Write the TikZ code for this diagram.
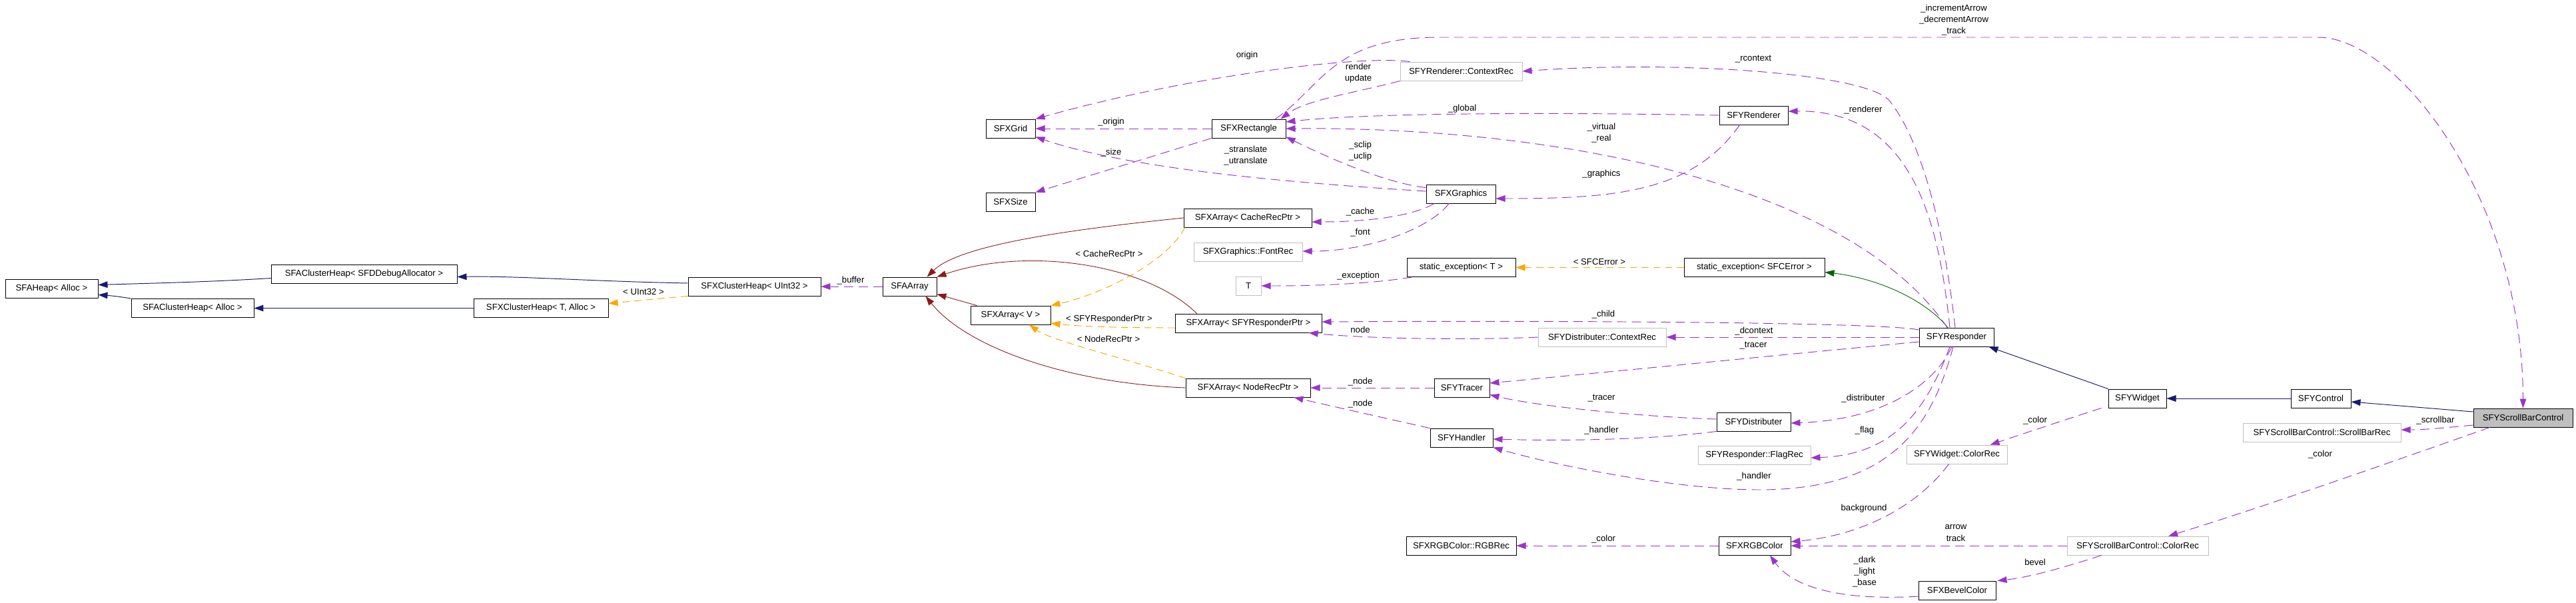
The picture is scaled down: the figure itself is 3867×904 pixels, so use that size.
\documentclass[tikz,border=0pt]{standalone}
\usepackage{fontspec}
\setmainfont{Liberation Sans}
\usepackage{xcolor}
\definecolor{dxPurple}{HTML}{9A32CD}
\definecolor{dxBlue}{HTML}{191970}
\definecolor{dxRed}{HTML}{8B1A1A}
\definecolor{dxGreen}{HTML}{006400}
\definecolor{dxOrange}{HTML}{FFA500}
\definecolor{dxGray}{HTML}{BFBFBF}
\usetikzlibrary{arrows.meta,calc}

\begin{document}
\begin{tikzpicture}[
			x=0.02cm, y=-0.02cm,
			cls/.style={rectangle, draw=black, line width=0.5pt, minimum height=0.56cm,
				inner sep=0pt, font=\fontsize{7.5}{9}\selectfont},
			ext/.style={cls, draw=dxGray},
			cur/.style={cls, fill=dxGray},
			lbl/.style={align=center, inner sep=0pt, font=\fontsize{7.5}{9.7}\selectfont},
			tip/.style={-{Triangle[length=8pt, width=5.5pt]}, line width=0.55pt},
			inh/.style={tip, dxBlue},
			arrinh/.style={tip, dxRed, line width=0.5pt},
			exinh/.style={tip, dxGreen, line width=0.5pt},
			tmpl/.style={tip, dxOrange, dash pattern=on 6pt off 4pt},
			mem/.style={tip, dxPurple, dash pattern=on 8pt off 4.5pt}
			]
			\useasboundingbox (0,0) rectangle (3867,904);

			% classes
			\node[cls, minimum width=2.78cm] (heap) at (77.5,433.5) {SFAHeap< Alloc >};
			\node[cls, minimum width=5.58cm] (dbgheap) at (546.5,411.5) {SFAClusterHeap< SFDDebugAllocator >};
			\node[cls, minimum width=3.68cm] (aheap) at (289,462.5) {SFAClusterHeap< Alloc >};
			\node[cls, minimum width=3.98cm] (u32heap) at (1132.5,430) {SFXClusterHeap< UInt32 >};
			\node[cls, minimum width=4.04cm] (tHeap) at (812,462.5) {SFXClusterHeap< T, Alloc >};
			\node[cls, minimum width=1.62cm] (aarray) at (1365.5,430) {SFAArray};
			\node[cls, minimum width=2.40cm] (vArray) at (1517,473) {SFXArray< V >};
			\node[cls, minimum width=3.84cm] (cacheArr) at (1873,327) {SFXArray< CacheRecPtr >};
			\node[ext, minimum width=3.26cm] (fontRec) at (1873.5,378) {SFXGraphics::FontRec};
			\node[ext, minimum width=0.76cm] (tNode) at (1874,429) {T};
			\node[cls, minimum width=4.40cm] (respArr) at (1874,485) {SFXArray< SFYResponderPtr >};
			\node[cls, minimum width=3.74cm] (nodeArr) at (1873.5,582) {SFXArray< NodeRecPtr >};
			\node[cls, minimum width=1.48cm] (grid) at (1517,193) {SFXGrid};
			\node[cls, minimum width=1.48cm] (sizeN) at (1517,303) {SFXSize};
			\node[cls, minimum width=2.22cm] (rect) at (1874.5,193) {SFXRectangle};
			\node[ext, minimum width=3.66cm] (rctx) at (2193.5,107) {SFYRenderer::ContextRec};
			\node[cls, minimum width=2.06cm] (renderer) at (2632.5,173) {SFYRenderer};
			\node[cls, minimum width=2.08cm] (graphics) at (2193,291) {SFXGraphics};
			\node[cls, minimum width=3.26cm] (excT) at (2193.5,401.5) {static\_exception< T >};
			\node[cls, minimum width=4.22cm] (excE) at (2633.5,401.5) {static\_exception< SFCError >};
			\node[cls, minimum width=2.24cm] (responder) at (2937,506) {SFYResponder};
			\node[ext, minimum width=3.84cm] (dctx) at (2405,506) {SFYDistributer::ContextRec};
			\node[cls, minimum width=1.66cm] (tracer) at (2194.5,582) {SFYTracer};
			\node[cls, minimum width=2.22cm] (distributer) at (2632.5,633) {SFYDistributer};
			\node[cls, minimum width=1.88cm] (handler) at (2194,657) {SFYHandler};
			\node[ext, minimum width=3.38cm] (flag) at (2633.5,683) {SFYResponder::FlagRec};
			\node[cls, minimum width=3.30cm] (rgbRec) at (2193.5,819) {SFXRGBColor::RGBRec};
			\node[cls, minimum width=2.16cm] (rgb) at (2634,819) {SFXRGBColor};
			\node[cls, minimum width=1.74cm] (widget) at (3208.5,598) {SFYWidget};
			\node[cls, minimum width=1.80cm] (control) at (3484,598) {SFYControl};
			\node[cur, minimum width=2.98cm] (sbc) at (3787.5,627) {SFYScrollBarControl};
			\node[ext, minimum width=4.74cm] (sbRec) at (3485.5,649) {SFYScrollBarControl::ScrollBarRec};
			\node[ext, minimum width=3.02cm] (wColor) at (2937.5,682) {SFYWidget::ColorRec};
			\node[ext, minimum width=4.24cm] (sbColor) at (3209,819) {SFYScrollBarControl::ColorRec};
			\node[cls, minimum width=2.32cm] (bevel) at (2938,886) {SFXBevelColor};

			% inheritance
			\draw[inh] ($(dbgheap.west)+(0,6)$) .. controls (320,423) and (230,425) .. ($(heap.east)+(0,-6)$);
			\draw[inh] (aheap.north west) .. controls (185,446) and (170,444) .. ($(heap.east)+(0,9)$);
			\draw[inh] ($(u32heap.west)+(0,-5)$) .. controls (880,422) and (780,414) .. ($(dbgheap.east)+(0,4)$);
			\draw[inh] (tHeap.west) -- (aheap.east);
			\draw[inh] (widget.north west) -- ($(responder.south east)+(-8,0)$);
			\draw[inh] (control.west) -- (widget.east);
			\draw[inh] ($(sbc.west)+(0,-9)$) -- ($(control.east)+(0,5)$);
			\draw[arrinh] (cacheArr.west) .. controls (1600,345) and (1440,368) .. ($(aarray.north)+(26,0)$);
			\draw[arrinh] ($(respArr.north west)+(33,0)$) .. controls (1720,395) and (1540,370) .. (aarray.north east);
			\draw[arrinh] ($(vArray.north west)+(10,0)$) -- ($(aarray.south east)+(0,-3)$);
			\draw[arrinh] (nodeArr.west) .. controls (1600,575) and (1450,520) .. ($(aarray.south)+(24,0)$);
			\draw[exinh] ($(responder.north)+(-13,0)$) .. controls (2890,450) and (2820,418) .. ($(excE.east)+(0,7)$);

			% templates
			\draw[tmpl] (u32heap.south west) .. controls (990,448) and (950,452) .. ($(tHeap.east)+(0,-7)$);
			\draw[tmpl] ($(cacheArr.south west)+(2,0)$) .. controls (1755,390) and (1660,440) .. (vArray.north east);
			\draw[tmpl] ($(respArr.west)+(0,7)$) .. controls (1680,492) and (1620,490) .. ($(vArray.east)+(0,12)$);
			\draw[tmpl] (nodeArr.north west) .. controls (1680,535) and (1580,512) .. ($(vArray.south)+(28,0)$);
			\draw[tmpl] (excE.west) -- (excT.east);
			\node[lbl] (lUInt) at (966,438) {< UInt32 >};
			\node[lbl] (lCache) at (1665,381) {< CacheRecPtr >};
			\node[lbl] (lResp) at (1665,479) {< SFYResponderPtr >};
			\node[lbl] (lNodeRec) at (1664,509) {< NodeRecPtr >};
			\node[lbl] (lSFCError) at (2401,393) {< SFCError >};

			% members
			\draw[mem] (aarray.west) -- (u32heap.east);
			\draw[mem] (rect.west) -- (grid.east);
			\draw[mem] (rect.south west) -- (sizeN.north east);
			\draw[mem] ($(graphics.west)+(0,-4)$) .. controls (1950,275) and (1700,255) .. ($(grid.south east)+(0,-2)$);
			\draw[mem] (rctx.south west) .. controls (2040,138) and (1960,150) .. ($(rect.north east)+(-8,0)$);
			\draw[mem] ($(rect.north)+(40,0)$) .. controls (1985,130) and (2000,56) .. (2160,56) -- (3480,56)
				.. controls (3600,56) and (3787,300) .. (sbc.north);
			\draw[mem] ($(rctx.north west)+(15,0)$) .. controls (2040,82) and (1780,115) .. (grid.north east);
			\draw[mem] (renderer.west) .. controls (2300,168) and (2050,170) .. ($(rect.east)+(0,-10)$);
			\draw[mem] ($(responder.north)+(-14,0)$) .. controls (2780,280) and (2350,190) .. (rect.east);
			\draw[mem] ($(graphics.north west)+(0,5)$) .. controls (2080,275) and (1990,235) .. ($(rect.south east)+(0,-2)$);
			\draw[mem] ($(renderer.south)+(-21,0)$) .. controls (2540,290) and (2420,298) .. ($(graphics.east)+(0,7)$);
			\draw[mem] ($(graphics.south)+(-40,0)$) .. controls (2120,325) and (2050,333) .. ($(cacheArr.east)+(0,6)$);
			\draw[mem] ($(graphics.south)+(-18,0)$) .. controls (2150,340) and (2060,377) .. ($(fontRec.east)+(0,-1)$);
			\draw[mem] ($(excT.south west)+(8,0)$) .. controls (2070,424) and (2000,429) .. (tNode.east);
			\draw[mem] ($(responder.north)+(-2,0)$) .. controls (2920,360) and (2890,220) .. (2837,152)
				.. controls (2805,110) and (2520,90) .. (rctx.east);
			\draw[mem] ($(responder.north)+(-10,0)$) .. controls (2910,330) and (2870,165) .. ($(renderer.east)+(0,-6)$);
			\draw[mem] ($(responder.west)+(0,-11)$) .. controls (2820,483) and (2300,481) .. ($(respArr.east)+(0,-2)$);
			\draw[mem] (dctx.west) .. controls (2200,511) and (2050,508) .. ($(respArr.south east)+(-20,0)$);
			\draw[mem] (responder.west) -- (dctx.east);
			\draw[mem] ($(responder.west)+(0,7)$) .. controls (2700,530) and (2450,555) .. ($(tracer.east)+(0,-7)$);
			\draw[mem] (tracer.west) -- (nodeArr.east);
			\draw[mem] (handler.north west) .. controls (2090,630) and (2010,612) .. ($(nodeArr.south east)+(-25,0)$);
			\draw[mem] ($(distributer.west)+(0,-4)$) .. controls (2450,625) and (2300,608) .. ($(tracer.south east)+(0,-4)$);
			\draw[mem] (distributer.south west) .. controls (2480,660) and (2350,662) .. ($(handler.east)+(0,2)$);
			\draw[mem] ($(responder.south)+(-7,0)$) .. controls (2905,575) and (2830,630) .. ($(distributer.east)+(0,2)$);
			\draw[mem] ($(responder.south)+(-10,0)$) .. controls (2890,620) and (2840,683) .. ($(flag.east)+(0,4)$);
			\draw[mem] ($(responder.south)+(-5,0)$) .. controls (2900,640) and (2840,735) .. (2640,735)
				.. controls (2520,735) and (2340,700) .. (handler.south east);
			\draw[mem] ($(wColor.south)+(-12,0)$) .. controls (2870,770) and (2780,805) .. ($(rgb.east)+(0,-6)$);
			\draw[mem] (rgb.west) -- (rgbRec.east);
			\draw[mem] (sbColor.west) -- (rgb.east);
			\draw[mem] ($(bevel.west)+(0,9)$) .. controls (2760,902) and (2690,880) .. ($(rgb.south)+(23,0)$);
			\draw[mem] ($(sbColor.south west)+(52,0)$) .. controls (3110,848) and (3050,866) .. ($(bevel.north east)+(2,0)$);
			\draw[mem] ($(widget.south west)+(-10,0)$) .. controls (3100,630) and (3040,650) .. ($(wColor.north)+(50,0)$);
			\draw[mem] ($(sbc.west)+(0,11)$) .. controls (3670,642) and (3640,645) .. ($(sbRec.east)+(0,-4)$);
			\draw[mem] ($(sbc.south)+(-50,0)$) .. controls (3600,690) and (3400,760) .. ($(sbColor.north)+(46,0)$);

			\node[lbl] (lBuffer) at (1277,421) {\_buffer};
			\node[lbl] (lOrigin) at (1872,83) {origin};
			\node[lbl] (lOriginM) at (1668,183) {\_origin};
			\node[lbl] (lSize) at (1668,229) {\_size};
			\node[lbl] (lTransl) at (1870,234) {\_stranslate\\\_utranslate};
			\node[lbl] (lRender) at (2039,110) {render\\update};
			\node[lbl] (lGlobal) at (2195,163) {\_global};
			\node[lbl] (lVirtual) at (2404,200) {\_virtual\\\_real};
			\node[lbl] (lClip) at (2042,227) {\_sclip\\\_uclip};
			\node[lbl] (lGraphics) at (2404,261) {\_graphics};
			\node[lbl] (lCacheM) at (2042,318) {\_cache};
			\node[lbl] (lFont) at (2042,349) {\_font};
			\node[lbl] (lExc) at (2039,414) {\_exception};
			\node[lbl] (lRcontext) at (2632,89) {\_rcontext};
			\node[lbl] (lRenderer) at (2797,165) {\_renderer};
			\node[lbl] (lTrack) at (2933,30) {\_incrementArrow\\\_decrementArrow\\\_track};
			\node[lbl] (lChild) at (2407,472) {\_child};
			\node[lbl] (lNodeD) at (2042,495) {node};
			\node[lbl] (lDcontext) at (2633,497) {\_dcontext};
			\node[lbl] (lTracerR) at (2632,519) {\_tracer};
			\node[lbl] (lNodeT) at (2042,573) {\_node};
			\node[lbl] (lNodeH) at (2042,606) {\_node};
			\node[lbl] (lTracerD) at (2404,598) {\_tracer};
			\node[lbl] (lHandlerD) at (2404,646) {\_handler};
			\node[lbl] (lDistributer) at (2797,598) {\_distributer};
			\node[lbl] (lFlag) at (2799,646) {\_flag};
			\node[lbl] (lHandlerR) at (2633,715) {\_handler};
			\node[lbl] (lBackground) at (2798,763) {background};
			\node[lbl] (lColorRGB) at (2407,809) {\_color};
			\node[lbl] (lArrow) at (2936,800) {arrow\\track};
			\node[lbl] (lDark) at (2799,858) {\_dark\\\_light\\\_base};
			\node[lbl] (lBevel) at (3055,844) {bevel};
			\node[lbl] (lColorW) at (3055,631) {\_color};
			\node[lbl] (lScrollbar) at (3656,631) {\_scrollbar};
			\node[lbl] (lColorS) at (3483,682) {\_color};
		\end{tikzpicture}
\end{document}
